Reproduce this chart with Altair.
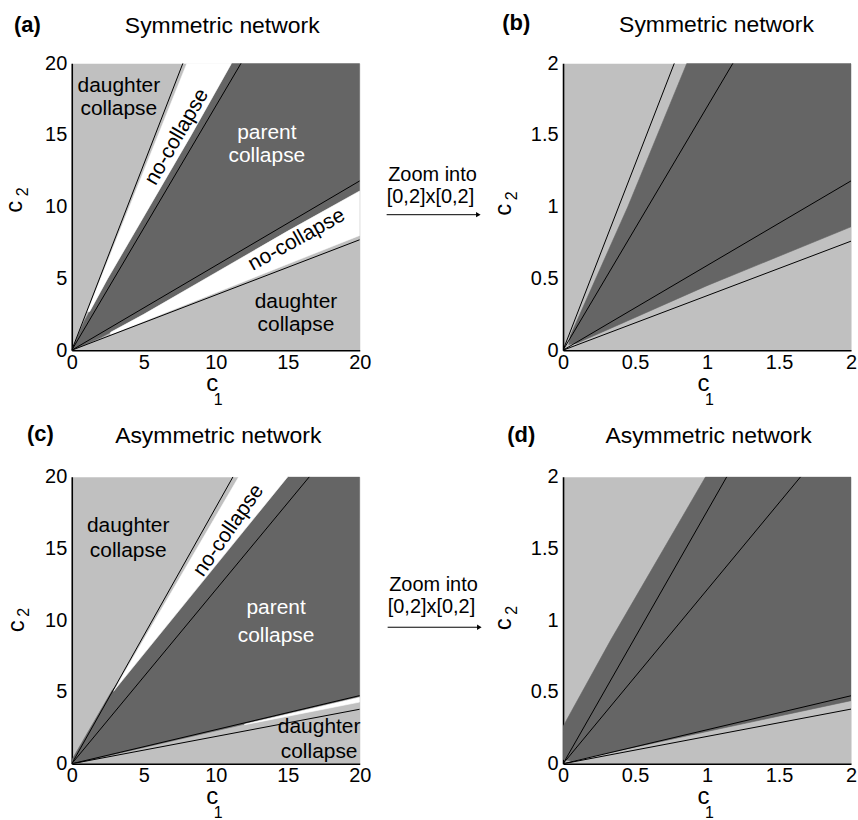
import altair as alt
import pandas as pd

FONT = "Liberation Sans"
LIGHT = "#c0c0c0"
DARK = "#656565"
W = 289
H = 288

# ---------------- data ----------------
# (a) symmetric network, [0,20]x[0,20]
A_DARK_C1 = [0, 0.86, 2.5, 5.4, 8.3, 11.1, 20, 20, 15, 10, 5, 2]
A_DARK_C2 = [0, 2, 5, 10, 15, 20, 20, 11.1, 8.3, 5.4, 2.5, 0.86]
A_WHITE_UP_C1 = [1.1, 8.0, 11.1, 8.3, 5.4, 2.5, 1.25]
A_WHITE_UP_C2 = [2.7, 20, 20, 15, 10, 5, 2.7]
A_WHITE_LO_C1 = [2.7, 20, 20, 15, 10, 5, 2.7]
A_WHITE_LO_C2 = [1.1, 8.0, 11.1, 8.3, 5.4, 2.5, 1.25]
A_LINE_END_C1 = [7.72, 11.76, 20, 20]
A_LINE_END_C2 = [20, 20, 11.8, 7.7]
A_LABELS = ["daughter", "collapse", "parent", "collapse", "daughter", "collapse"]
A_LABEL_C1 = [3.27, 3.27, 13.55, 13.55, 15.57, 15.57]
A_LABEL_C2 = [17.99, 16.37, 14.74, 13.1, 2.94, 1.32]
A_LABEL_COLOR = ["black", "black", "white", "white", "black", "black"]
A_ROT_LABELS = ["no-collapse", "no-collapse"]
A_ROT_C1 = [7.31, 15.62]
A_ROT_C2 = [14.86, 7.69]
A_ROT_ANGLE = [300, 331]

# (b) symmetric network, zoom [0,2]x[0,2]
B_DARK_C1 = [0.04, 0.05, 0.45, 0.86, 2, 2, 1.0, 0.10]
B_DARK_C2 = [0.04, 0.10, 1.0, 2, 2, 0.86, 0.45, 0.05]
B_LINE_END_C1 = [0.773, 1.18, 2, 2]
B_LINE_END_C2 = [2, 2, 1.18, 0.76]

# (c) asymmetric network, [0,20]x[0,20]
C_DARK_C1 = [0, 0, 2.8, 15.0, 20, 20, 0.1]
C_DARK_C2 = [0.02, 0.26, 5.1, 20, 20, 4.62, 0.0]
C_WHITE_UP_C1 = [2.9, 11.6, 15.0]
C_WHITE_UP_C2 = [5.05, 20, 20]
C_WHITE_LO_C1 = [12, 20, 20, 12]
C_WHITE_LO_C2 = [2.76, 4.64, 4.3, 2.72]
C_LINE_END_C1 = [11.2, 16.5, 20, 20]
C_LINE_END_C2 = [20, 20, 4.75, 3.8]
C_LABELS = ["daughter", "collapse", "parent", "collapse", "daughter", "collapse"]
C_LABEL_C1 = [3.92, 3.92, 14.19, 14.19, 17.18, 17.18]
C_LABEL_C2 = [16.13, 14.44, 10.45, 8.5, 2.13, 0.4]
C_LABEL_COLOR = ["black", "black", "white", "white", "black", "black"]
C_ROT_LABELS = ["no-collapse"]
C_ROT_C1 = [10.9]
C_ROT_C2 = [16.25]
C_ROT_ANGLE = [305]

# (d) asymmetric network, zoom [0,2]x[0,2]
D_DARK_C1 = [0, 0, 0.33, 0.99, 2, 2, 1.0, 0.06]
D_DARK_C2 = [0.03, 0.26, 0.86, 2, 2, 0.44, 0.225, 0.02]
D_LINE_END_C1 = [1.137, 1.65, 2, 2]
D_LINE_END_C2 = [2, 2, 0.474, 0.381]

TICKS_20 = [0, 5, 10, 15, 20]
TICKS_2 = [0, 0.5, 1, 1.5, 2]


# ---------------- helpers ----------------
def poly_frame(polys):
    rows = []
    for pid, (region, xs, ys) in enumerate(polys):
        for i, (x, y) in enumerate(zip(xs, ys)):
            rows.append({"poly": pid, "region": region, "i": i, "c1": x, "c2": y})
    return pd.DataFrame(rows)


def line_frame(ex, ey):
    rows = []
    for k, (x, y) in enumerate(zip(ex, ey)):
        rows.append({"id": k, "i": 0, "c1": 0.0, "c2": 0.0})
        rows.append({"id": k, "i": 1, "c1": x, "c2": y})
    return pd.DataFrame(rows)


ONE = pd.DataFrame({"k": [0]})


def ptext(txt, x, y, size, align="center", baseline="alphabetic", angle=None,
          weight="normal", color="black"):
    kw = dict(text=txt, font=FONT, fontSize=size, align=align, baseline=baseline,
              fontWeight=weight, color=color)
    if angle is not None:
        kw["angle"] = angle
    return alt.Chart(ONE).mark_text(**kw).encode(x=alt.value(x), y=alt.value(y))


def arrow(x0, x1, y):
    r = alt.Chart(ONE).mark_rule(color="black", strokeWidth=1).encode(
        x=alt.value(x0), x2=alt.value(x1), y=alt.value(y))
    h = alt.Chart(ONE).mark_point(shape="triangle-right", filled=True, size=28,
                                  color="black", opacity=1).encode(
        x=alt.value(x1 + 1), y=alt.value(y))
    return [r, h]


def panel(dom, ticks, fmt, polys, lex, ley, labels, rot, letter, title, ann):
    xs = alt.Scale(domain=[0, dom], nice=False, zero=False)
    ys = alt.Scale(domain=[0, dom], nice=False, zero=False)
    common = dict(values=ticks, format=fmt, title=None, ticks=False, grid=False,
                  labelFlush=False, labelFont=FONT, labelFontSize=20,
                  labelColor="black", domainColor="black", domainWidth=1.6,
                  labelOverlap=False)
    ax = alt.Axis(labelPadding=2, **common)
    ay = alt.Axis(labelPadding=5, **common)
    X = alt.X("c1:Q", scale=xs, axis=ax)
    Y = alt.Y("c2:Q", scale=ys, axis=ay)
    rscale = alt.Scale(domain=["parent", "none"], range=[DARK, "#ffffff"])
    layers = []
    layers.append(
        alt.Chart(poly_frame(polys)).mark_line(interpolate="linear-closed",
                                                strokeWidth=0.6, clip=True).encode(
            x=X, y=Y, detail="poly:N", order="i:Q",
            fill=alt.Fill("region:N", scale=rscale, legend=None),
            stroke=alt.Stroke("region:N", scale=rscale, legend=None)))
    layers.append(
        alt.Chart(line_frame(lex, ley)).mark_line(color="black", strokeWidth=1,
                                                   clip=True).encode(
            x=X, y=Y, detail="id:N", order="i:Q"))
    if labels is not None:
        t, c1, c2, col = labels
        df = pd.DataFrame({"t": t, "c1": c1, "c2": c2, "col": col})
        layers.append(alt.Chart(df).mark_text(font=FONT, fontSize=21,
                                              baseline="alphabetic",
                                              align="center").encode(
            x=X, y=Y, text="t:N", color=alt.Color("col:N", scale=None)))
    if rot is not None:
        t, c1, c2, ang = rot
        df = pd.DataFrame({"t": t, "c1": c1, "c2": c2, "ang": ang})
        layers.append(alt.Chart(df).mark_text(font=FONT, fontSize=21,
                                              baseline="middle", align="center",
                                              color="black").encode(
            x=X, y=Y, text="t:N", angle=alt.Angle("ang:Q", scale=None)))
    # titles
    lt, lx, ly = letter
    layers.append(ptext(lt, lx, ly, 22, align="left", weight="bold"))
    tt, tx, ty = title
    layers.append(ptext(tt, tx, ty, 23))
    # axis titles (c with subscript)
    (cx, cy), (sx, sy), (ycx, ycy), (ysx, ysy) = ann["axes"]
    layers.append(ptext("c", cx, cy, 24))
    layers.append(ptext("1", sx, sy, 16))
    layers.append(ptext("c", ycx, ycy, 24, angle=270))
    layers.append(ptext("2", ysx, ysy, 16, angle=270))
    if "zoom" in ann:
        zx, zy1, zy2, ax0, ax1, ayy = ann["zoom"]
        layers.append(ptext("Zoom into", zx, zy1, 20))
        layers.append(ptext("[0,2]x[0,2]", zx - 2, zy2, 20))
        layers += arrow(ax0, ax1, ayy)
    if ann.get("anchor"):
        layers.append(alt.Chart(ONE).mark_point(size=1, opacity=0, filled=True).encode(
            x=alt.value(-70.5), y=alt.value(-60.5)))
    return alt.layer(*layers).properties(width=W, height=H)


pa = panel(20, TICKS_20, "d",
           [("parent", A_DARK_C1, A_DARK_C2),
            ("none", A_WHITE_UP_C1, A_WHITE_UP_C2),
            ("none", A_WHITE_LO_C1, A_WHITE_LO_C2)],
           A_LINE_END_C1, A_LINE_END_C2,
           (A_LABELS, A_LABEL_C1, A_LABEL_C2, A_LABEL_COLOR),
           (A_ROT_LABELS, A_ROT_C1, A_ROT_C2, A_ROT_ANGLE),
           ("(a)", -58, -31), ("Symmetric network", 151, -30),
           {"axes": ((141, 329), (147, 343), (-50, 144), (-44, 129)),
            "zoom": (362, 118, 140, 316, 407, 152), "anchor": True})

pb = panel(2, TICKS_2, ".1~f",
           [("parent", B_DARK_C1, B_DARK_C2)],
           B_LINE_END_C1, B_LINE_END_C2, None, None,
           ("(b)", -61, -33), ("Symmetric network", 154, -31),
           {"axes": ((141, 329), (147, 343), (-52, 147), (-46, 133))})

pc = panel(20, TICKS_20, "d",
           [("parent", C_DARK_C1, C_DARK_C2),
            ("none", C_WHITE_UP_C1, C_WHITE_UP_C2),
            ("none", C_WHITE_LO_C1, C_WHITE_LO_C2)],
           C_LINE_END_C1, C_LINE_END_C2,
           (C_LABELS, C_LABEL_C1, C_LABEL_C2, C_LABEL_COLOR),
           (C_ROT_LABELS, C_ROT_C1, C_ROT_C2, C_ROT_ANGLE),
           ("(c)", -45, -36), ("Asymmetric network", 147, -34),
           {"axes": ((141, 328), (147, 342), (-48, 150), (-43, 136)),
            "zoom": (363, 115, 137, 317, 408, 151)})

pd_ = panel(2, TICKS_2, ".1~f",
            [("parent", D_DARK_C1, D_DARK_C2)],
            D_LINE_END_C1, D_LINE_END_C2, None, None,
            ("(d)", -56, -35), ("Asymmetric network", 146, -34),
            {"axes": ((141, 328), (147, 342), (-52, 148), (-46, 134))})

chart = (alt.concat(pa, pb, pc, pd_, columns=2,
                    spacing={"row": 127, "column": 204}, bounds="flush")
         .properties(padding=0, background="white")
         .configure_view(fill=LIGHT, stroke="transparent"))

chart.save("out.html", embed_options={"renderer": "svg", "actions": False})
